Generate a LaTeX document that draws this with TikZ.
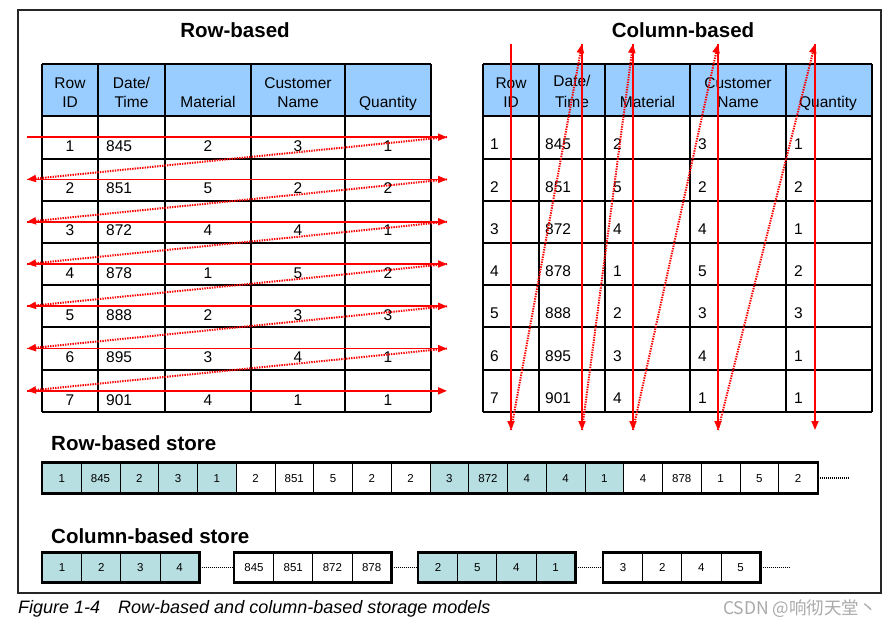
\documentclass[tikz,border=0pt]{standalone}
\usepackage{fontspec}
\setmainfont{Liberation Sans}
\newfontfamily\cjkfont{Noto Sans CJK SC}
\usetikzlibrary{arrows.meta}
\definecolor{hdrblue}{RGB}{153,204,255}
\definecolor{teal}{RGB}{183,222,224}
\definecolor{wm}{RGB}{170,170,170}
\tikzset{
  frame/.style={draw=black!85, line width=1.3pt},
  gridline/.style={draw=black, line width=1.1pt},
  hdrtxt/.style={font=\fontsize{15.5}{18}\selectfont, anchor=base, inner sep=0pt},
  cell/.style={font=\fontsize{15.5}{18}\selectfont, anchor=base, inner sep=0pt},
  title/.style={font=\bfseries\fontsize{20.5}{24}\selectfont, anchor=base, inner sep=0pt},
  solidarr/.style={draw=red, line width=1.8pt, -{Triangle[length=9pt,width=7pt]}},
  dotarr/.style={draw=red, line width=2pt, dash pattern=on 1.4pt off 1.1pt, -{Triangle[length=9pt,width=7pt]}},
  rcell/.style={draw=black, line width=0.8pt, minimum width=38.75pt, minimum height=30pt, inner sep=0pt, anchor=west, text height=8.2pt, text depth=0pt, font=\fontsize{11.5}{13}\selectfont},
  ccell/.style={draw=black, line width=0.8pt, minimum width=39.2pt, minimum height=29pt, inner sep=0pt, anchor=west, text height=8.2pt, text depth=0pt, font=\fontsize{11.5}{13}\selectfont},
  thickbox/.style={draw=black, line width=2.4pt},
  dotline/.style={draw=black, line width=1.1pt, dash pattern=on 1pt off 1pt},
}
\begin{document}
\begin{tikzpicture}[x=1pt,y=-1pt]
\useasboundingbox (0,0) rectangle (890,625);
\fill[white] (0,0) rectangle (890,625);
\draw[frame] (18,10) rectangle (881,593);

% titles
\node[title] (t1) at (235,37) {Row-based};
\node[title] (t2) at (683,37) {Column-based};

% ---------- left table ----------
\fill[hdrblue] (42,64) rectangle (431,116);
\foreach \x in {42,98,165,251,345,431} \draw[gridline] (\x,64) -- (\x,412);
\foreach \y in {64,116,159,201,243,285,327,370,412} \draw[gridline] (42,\y) -- (431,\y);
\node[hdrtxt] (lh1a) at (70,88) {Row};
\node[hdrtxt] (lh1b) at (70,107) {ID};
\node[hdrtxt] (lh2a) at (131.5,88) {Date/};
\node[hdrtxt] (lh2b) at (131.5,107) {Time};
\node[hdrtxt] (lh3) at (208,107) {Material};
\node[hdrtxt] (lh4a) at (298,88) {Customer};
\node[hdrtxt] (lh4b) at (298,107) {Name};
\node[hdrtxt] (lh5) at (388,107) {Quantity};

% ---------- right table ----------
\fill[hdrblue] (483,64) rectangle (872,116);
\foreach \x in {483,539,605,690,786,872} \draw[gridline] (\x,64) -- (\x,412);
\foreach \y in {64,116,159,201,243,285,327,370,412} \draw[gridline] (483,\y) -- (872,\y);
\node[hdrtxt] (rh1a) at (511,88) {Row};
\node[hdrtxt] (rh1b) at (511,107) {ID};
\node[hdrtxt] (rh2a) at (572,86) {Date/};
\node[hdrtxt] (rh2b) at (572,107) {Time};
\node[hdrtxt] (rh3) at (647.5,107) {Material};
\node[hdrtxt] (rh4a) at (738,88) {Customer};
\node[hdrtxt] (rh4b) at (738,107) {Name};
\node[hdrtxt] (rh5) at (828,107) {Quantity};

% ---------- table data ----------
\foreach \r/\a/\b/\c/\d/\e in {1/1/845/2/3/1,2/2/851/5/2/2,3/3/872/4/4/1,4/4/878/1/5/2,5/5/888/2/3/3,6/6/895/3/4/1,7/7/901/4/1/1}{
  \pgfmathsetmacro\yb{116+\r*42.286-7}
  \node[cell] (la\r) at (70,\yb) {\a};
  \node[cell, anchor=base west] (lb\r) at (106,\yb) {\b};
  \node[cell] (lc\r) at (208,\yb) {\c};
  \node[cell] (ld\r) at (298,\yb) {\d};
  \node[cell] (le\r) at (388,\yb) {\e};
  \pgfmathsetmacro\yc{116+\r*42.286-8.5}
  \node[cell, anchor=base west] (ra\r) at (490,\yc) {\a};
  \node[cell, anchor=base west] (rb\r) at (545,\yc) {\b};
  \node[cell, anchor=base west] (rc\r) at (613,\yc) {\c};
  \node[cell, anchor=base west] (rd\r) at (698,\yc) {\d};
  \node[cell, anchor=base west] (re\r) at (794,\yc) {\e};
}

% ---------- left red arrows ----------
\foreach \i in {1,...,7}{
  \pgfmathsetmacro\ym{116+(\i-0.5)*42.286}
  \coordinate (L\i) at (27,\ym);
  \coordinate (R\i) at (447,\ym);
}
\foreach \i in {1,...,7} \draw[solidarr] (L\i) -- (R\i);
\foreach \i/\k in {1/2,2/3,3/4,4/5,5/6,6/7} \draw[dotarr] (R\i) -- (L\k);

% ---------- right red arrows ----------
\foreach \j/\x in {1/511,2/582,3/633,4/718,5/815}{
  \coordinate (T\j) at (\x,44);
  \coordinate (B\j) at (\x,430);
}
\foreach \j in {1,...,5} \draw[solidarr] (T\j) -- (B\j);
\foreach \j/\k in {1/2,2/3,3/4,4/5} \draw[dotarr] (B\j) -- (T\k);

% ---------- row-based store ----------
\node[title, anchor=base west] (rsl) at (51,450) {Row-based store};
\foreach \i/\v/\c in {1/1/teal,2/845/teal,3/2/teal,4/3/teal,5/1/teal,
                      6/2/white,7/851/white,8/5/white,9/2/white,10/2/white,
                      11/3/teal,12/872/teal,13/4/teal,14/4/teal,15/1/teal,
                      16/4/white,17/878/white,18/1/white,19/5/white,20/2/white}{
  \node[rcell, fill=\c] (rs\i) at ({42+(\i-1)*38.75},478) {\v};
}
\draw[thickbox] (rs1.north west) rectangle (rs20.south east);
\coordinate (rsend) at (848,478);
\draw[dotline] (rs20.east) -- (rsend);

% ---------- column-based store ----------
\node[title, anchor=base west] (csl) at (51,543) {Column-based store};
\foreach \g/\x/\c/\va/\vb/\vc/\vd in {1/42/teal/1/2/3/4, 2/234/white/845/851/872/878, 3/418/teal/2/5/4/1, 4/603/white/3/2/4/5}{
  \node[ccell, fill=\c] (cs\g-1) at (\x,567.5) {\va};
  \node[ccell, fill=\c] (cs\g-2) at ({\x+39.2},567.5) {\vb};
  \node[ccell, fill=\c] (cs\g-3) at ({\x+78.4},567.5) {\vc};
  \node[ccell, fill=\c] (cs\g-4) at ({\x+117.6},567.5) {\vd};
  \draw[thickbox] (cs\g-1.north west) rectangle (cs\g-4.south east);
}
\draw[dotline] (cs1-4.east) -- (cs2-1.west);
\draw[dotline] (cs2-4.east) -- (cs3-1.west);
\draw[dotline] (cs3-4.east) -- (cs4-1.west);
\coordinate (csend) at (790,567.5);
\draw[dotline] (cs4-4.east) -- (csend);

% ---------- caption ----------
\node[anchor=base west, inner sep=0pt, font=\itshape\fontsize{18}{21}\selectfont] (cap) at (18,613)
  {Figure 1-4\hspace{18pt}Row-based and column-based storage models};
\node[anchor=base east, inner sep=0pt, text=wm, font=\cjkfont\fontsize{17.5}{20}\selectfont] (wmk) at (877,614)
  {CSDN @响彻天堂丶};
\end{tikzpicture}
\end{document}
